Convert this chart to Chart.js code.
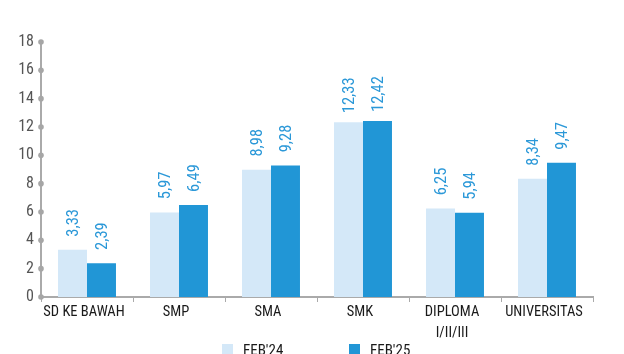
<!DOCTYPE html>
<html><head><meta charset="utf-8">
<script src="https://cdn.jsdelivr.net/npm/chart.js@4"></script>
<style>
html,body{margin:0;padding:0;background:#fff;overflow:hidden;}
#wrap{position:relative;width:624px;height:354px;}
</style></head>
<body><div id="wrap"><canvas id="c" width="624" height="354"></canvas></div>
<script>
const categories = [["SD KE BAWAH"], ["SMP"], ["SMA"], ["SMK"], ["DIPLOMA", "I/II/III"], ["UNIVERSITAS"]];
const feb24 = [3.33, 5.97, 8.98, 12.33, 6.25, 8.34];
const feb25 = [2.39, 6.49, 9.28, 12.42, 5.94, 9.47];
const seriesNames = ["FEB'24", "FEB'25"];
const yTicks = [0, 2, 4, 6, 8, 10, 12, 14, 16, 18];

const FONT = "'Roboto Condensed', 'DejaVu Sans Condensed', sans-serif";

const labelPlugin = {
  id: 'vlabels',
  afterDatasetsDraw(chart) {
    const ctx = chart.ctx;
    chart.data.datasets.forEach((ds, di) => {
      chart.getDatasetMeta(di).data.forEach((bar, i) => {
        const txt = ds.data[i].toFixed(2).replace('.', ',');
        ctx.save();
        ctx.translate(bar.x + 1, bar.y - 27);
        ctx.rotate(-Math.PI / 2);
        ctx.font = "16.5px " + FONT;
        ctx.fillStyle = '#2b98d8';
        ctx.textAlign = 'center';
        ctx.textBaseline = 'middle';
        ctx.fillText(txt, 0, 0);
        ctx.restore();
      });
    });
  }
};
const dotPlugin = {
  id: 'ydots',
  afterDraw(chart) {
    const y = chart.scales.y, ctx = chart.ctx;
    ctx.save();
    ctx.fillStyle = '#a6a6a6';
    y.ticks.forEach(t => {
      const py = y.getPixelForValue(t.value);
      ctx.beginPath();
      ctx.arc(y.right, py, 2.8, 0, Math.PI * 2);
      ctx.fill();
    });
    ctx.restore();
  }
};
const legendPlugin = {
  id: 'bottomLegend',
  afterDraw(chart) {
    const ctx = chart.ctx, area = chart.chartArea;
    const starts = [area.left + 181, area.left + 308];
    ctx.save();
    ctx.font = "15px " + FONT;
    ctx.textBaseline = 'top';
    ctx.textAlign = 'left';
    chart.data.datasets.forEach((ds, i) => {
      const x = starts[i], y = 344;
      ctx.fillStyle = ds.backgroundColor;
      ctx.fillRect(x, y, 11, 11);
      ctx.fillStyle = '#1a1a1a';
      ctx.fillText(ds.label, x + 21, 344);
    });
    ctx.restore();
  }
};

new Chart(document.getElementById('c'), {
  type: 'bar',
  data: {
    labels: categories,
    datasets: [
      { label: seriesNames[0], data: feb24, backgroundColor: '#d4e8f8' },
      { label: seriesNames[1], data: feb25, backgroundColor: '#2196d6' }
    ]
  },
  options: {
    responsive: false,
    animation: false,
    layout: { padding: { left: 0, right: 31, top: 42, bottom: 0 } },
    datasets: { bar: { categoryPercentage: 0.63, barPercentage: 1 } },
    plugins: {
      legend: { display: false },
      tooltip: { enabled: false }
    },
    scales: {
      x: {
        afterFit(s) { s.height = 57; },
        grid: { display: true, drawOnChartArea: false, offset: true, tickLength: 5, color: '#aaaaaa', lineWidth: 1 },
        border: { color: '#aaaaaa', width: 2 },
        ticks: { font: { family: FONT, size: 14.5, lineHeight: 1.45 }, color: '#1a1a1a', padding: 0, labelOffset: -3, maxRotation: 0, autoSkip: false },
      },
      y: {
        min: 0, max: 18,
        afterBuildTicks(s) { s.ticks = yTicks.map(v => ({ value: v })); },
        afterFit(s) { s.width = 41; },
        grid: { display: false, drawTicks: false },
        border: { color: '#aaaaaa', width: 2 },
        ticks: { font: { family: FONT, size: 16 }, color: '#555555', padding: 7 }
      }
    }
  },
  plugins: [labelPlugin, dotPlugin, legendPlugin]
});
</script></body></html>
